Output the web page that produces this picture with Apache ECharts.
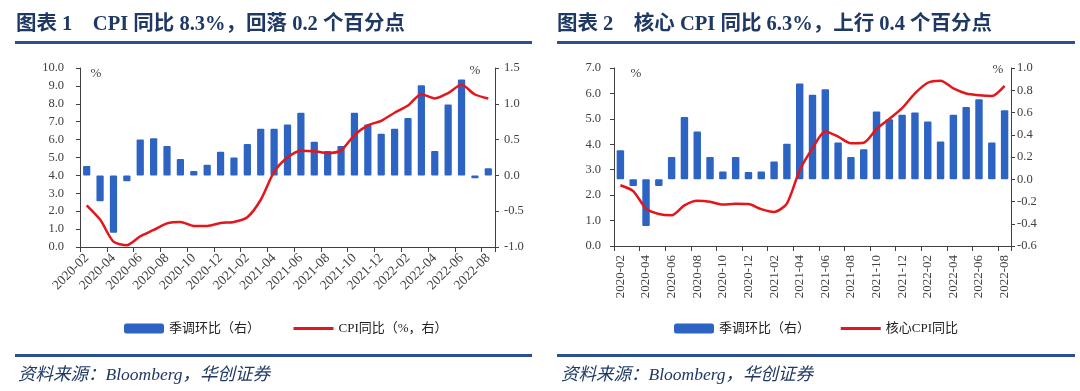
<!DOCTYPE html>
<html><head><meta charset="utf-8">
<script src="https://cdn.jsdelivr.net/npm/echarts@6.0.0/dist/echarts.min.js"></script>
<style>html,body{margin:0;padding:0;background:#fff}#c{width:1080px;height:391px}</style>
</head><body><div id="c"></div>
<script>
const months = ['2020-02','2020-03','2020-04','2020-05','2020-06','2020-07','2020-08','2020-09','2020-10','2020-11','2020-12',
  '2021-01','2021-02','2021-03','2021-04','2021-05','2021-06','2021-07','2021-08','2021-09','2021-10','2021-11','2021-12',
  '2022-01','2022-02','2022-03','2022-04','2022-05','2022-06','2022-07','2022-08'];
// Chart 1
const cpiMoM = [0.13,-0.36,-0.8,-0.08,0.5,0.52,0.41,0.23,0.06,0.15,0.33,0.25,0.44,0.65,0.65,0.71,0.875,0.47,0.34,0.41,0.875,0.71,0.58,0.65,0.80,1.26,0.34,0.99,1.34,-0.04,0.10];
const cpiYoY = [2.33,1.53,0.3,0.1,0.6,0.95,1.32,1.4,1.18,1.18,1.34,1.4,1.66,2.64,4.2,5.0,5.38,5.35,5.25,5.4,6.25,6.8,7.05,7.5,7.9,8.54,8.3,8.6,9.06,8.52,8.3];
// Chart 2
const coreMoM = [0.26,-0.06,-0.42,-0.06,0.20,0.56,0.43,0.20,0.07,0.20,0.065,0.07,0.16,0.32,0.86,0.76,0.81,0.33,0.20,0.27,0.61,0.54,0.58,0.60,0.52,0.34,0.58,0.65,0.72,0.33,0.62];
const coreYoY = [2.39,2.16,1.47,1.26,1.21,1.6,1.78,1.74,1.63,1.66,1.65,1.45,1.34,1.67,2.98,3.84,4.5,4.3,4.04,4.06,4.6,5.0,5.42,6.0,6.42,6.5,6.2,6.0,5.93,5.9,6.3];
const titles = ['图表 1    CPI 同比 8.3%，回落 0.2 个百分点', '图表 2    核心 CPI 同比 6.3%，上行 0.4 个百分点'];
const source = '资料来源：Bloomberg，华创证券';
const legendBar = '季调环比（右）';
const legendLine1 = 'CPI同比（%，右）';
const legendLine2 = '核心CPI同比';

const SERIF = '"Liberation Serif","Times New Roman","Noto Sans CJK SC",serif';
const AX = '#404040';
const BLUE = '#2D63C2';
const RED = '#E3161C';
const NAVY = '#1F3864';
const RULE = '#2B4F91';

function yAx(grid, pos, min, max, interval, margin) {
  return {
    type: 'value', gridIndex: grid, position: pos, min, max, interval,
    splitLine: {show: false},
    axisLine: {show: true, lineStyle: {color: AX, width: 1}},
    axisTick: {show: true, inside: false, length: 4, lineStyle: {color: AX}},
    axisLabel: {color: AX, fontFamily: SERIF, fontSize: 12.5, margin,
      formatter: v => (Math.abs(v) < 1e-9 ? 0 : v).toFixed(1)}
  };
}
function xAx(grid, rotate, margin, size) {
  return {
    type: 'category', gridIndex: grid, data: months, boundaryGap: true,
    axisLine: {show: true, onZero: false, lineStyle: {color: AX, width: 1}},
    axisTick: {show: true, interval: 1, length: 5, lineStyle: {color: AX}},
    axisLabel: {interval: 1, rotate, color: AX, fontFamily: SERIF, fontSize: size, margin}
  };
}
const legendText = {fontFamily: SERIF, fontSize: 13, color: '#222'};
const chart = echarts.init(document.getElementById('c'), null, {renderer: 'canvas'});
chart.setOption({
  animation: false,
  backgroundColor: '#fff',
  grid: [
    {left: 80, top: 68, width: 415, height: 179},
    {left: 614, top: 68, width: 397, height: 178}
  ],
  xAxis: [xAx(0, 45, 9, 13.5), xAx(1, 90, 9, 13)],
  yAxis: [
    yAx(0, 'left', 0, 10, 1, 16),
    yAx(0, 'right', -1, 1.5, 0.5, 9),
    yAx(1, 'left', 0, 7, 1, 13),
    yAx(1, 'right', -0.6, 1.0, 0.2, 6)
  ],
  legend: [
    {left: 124, top: 322, padding: 0, itemWidth: 40, itemHeight: 10, itemGap: 32, textStyle: legendText,
     lineStyle: {width: 3},
     data: [legendBar, {name: legendLine1, itemStyle: {opacity: 0}}]},
    {left: 674, top: 322, padding: 0, itemWidth: 40, itemHeight: 10, itemGap: 26, textStyle: legendText,
     lineStyle: {width: 3},
     data: [legendBar + ' ', {name: legendLine2, itemStyle: {opacity: 0}}]}
  ],
  series: [
    {name: legendBar, type: 'bar', xAxisIndex: 0, yAxisIndex: 1, data: cpiMoM, barWidth: '54%',
     itemStyle: {color: BLUE, borderRadius: 1}},
    {name: legendLine1, type: 'line', xAxisIndex: 0, yAxisIndex: 0, data: cpiYoY, symbol: 'none',
     smooth: 0.25, lineStyle: {color: RED, width: 2.5}, itemStyle: {color: RED}},
    {name: legendBar + ' ', type: 'bar', xAxisIndex: 1, yAxisIndex: 3, data: coreMoM, barWidth: '58%',
     itemStyle: {color: BLUE, borderRadius: 1}},
    {name: legendLine2, type: 'line', xAxisIndex: 1, yAxisIndex: 2, data: coreYoY, symbol: 'none',
     smooth: 0.25, lineStyle: {color: RED, width: 2.5}, itemStyle: {color: RED}}
  ],
  graphic: [
    {type: 'text', left: 16, top: 14, style: {text: titles[0], font: 'bold 20.5px ' + SERIF, fill: NAVY}},
    {type: 'text', left: 557, top: 14, style: {text: titles[1], font: 'bold 20.5px ' + SERIF, fill: NAVY}},
    {type: 'rect', shape: {x: 15, y: 41, width: 517, height: 3}, style: {fill: RULE}},
    {type: 'rect', shape: {x: 557, y: 41, width: 518, height: 3}, style: {fill: RULE}},
    {type: 'rect', shape: {x: 15, y: 354, width: 517, height: 3}, style: {fill: RULE}},
    {type: 'rect', shape: {x: 557, y: 354, width: 518, height: 3}, style: {fill: RULE}},
    {type: 'text', left: 18, top: 367, style: {text: source, font: 'italic 17.5px ' + SERIF, fill: NAVY}},
    {type: 'text', left: 561, top: 367, style: {text: source, font: 'italic 17.5px ' + SERIF, fill: NAVY}},
    {type: 'text', x: 96, y: 74, style: {text: '%', font: '13px ' + SERIF, fill: AX, align: 'center', verticalAlign: 'middle'}},
    {type: 'text', x: 475, y: 71, style: {text: '%', font: '13px ' + SERIF, fill: AX, align: 'center', verticalAlign: 'middle'}},
    {type: 'text', x: 636, y: 74, style: {text: '%', font: '13px ' + SERIF, fill: AX, align: 'center', verticalAlign: 'middle'}},
    {type: 'text', x: 998, y: 70, style: {text: '%', font: '13px ' + SERIF, fill: AX, align: 'center', verticalAlign: 'middle'}}
  ]
});
</script>
</body></html>
